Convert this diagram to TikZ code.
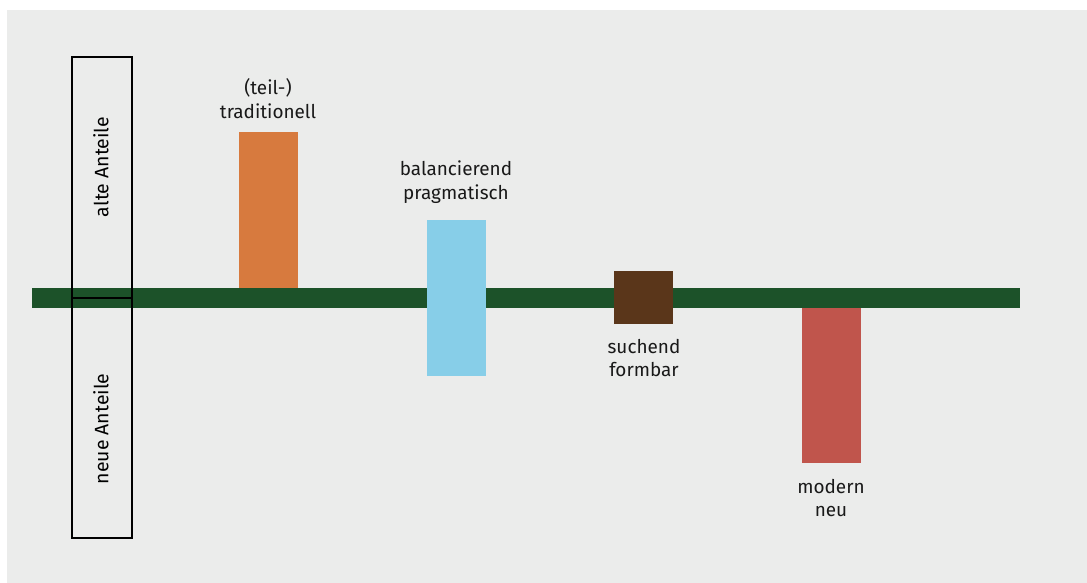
\documentclass[tikz,border=0pt]{standalone}
\usepackage{fontspec}
\setmainfont{Fira Sans}
\definecolor{bg}{HTML}{EBECEB}
\definecolor{bargreen}{HTML}{1C5229}
\definecolor{cOrange}{HTML}{D77A3E}
\definecolor{cBlue}{HTML}{87CEE8}
\definecolor{cBrown}{HTML}{5A361A}
\definecolor{cRed}{HTML}{C0554C}
\begin{document}
\begin{tikzpicture}[x=1bp,y=-1bp,
  bar/.style={draw=none,minimum width=59bp,inner sep=0pt,outer sep=0pt},
  lbl/.style={align=center,font=\fontsize{19}{24}\selectfont,text=black!90,inner sep=0pt},
  side/.style={font=\fontsize{19.5}{24}\selectfont,rotate=90,inner sep=0pt}]
\useasboundingbox (0,0) rectangle (1087,583);
\fill[white] (0,0) rectangle (1087,583);
\fill[bg] (7,10) rectangle (1087,583);
% green axis
\fill[bargreen] (32,288) rectangle (1020,308);
% frame
\node[draw=black,line width=1.2bp,minimum width=60bp,minimum height=481bp,inner sep=0pt] (frame) at (102,297.5) {};
\coordinate (fl) at (72,298);
\coordinate (fr) at (132,298);
\draw[line width=1.2bp] (fl) -- (fr);
\node[side] (alte) at (101,167) {alte Anteile};
\node[side] (neue) at (101,429) {neue Anteile};
% bars
\node[bar,fill=cOrange,minimum height=156bp] (o) at (268.5,210) {};
\node[bar,fill=cBlue,minimum height=156bp] (b) at (456.5,298) {};
\node[bar,fill=cBrown,minimum height=53bp] (br) at (643.5,297.5) {};
\node[bar,fill=cRed,minimum height=155bp] (r) at (831.5,385.5) {};
% labels
\node[lbl] (to) at (268,99) {(teil-)\\traditionell};
\node[lbl] (tb) at (456,182) {balancierend\\pragmatisch};
\node[lbl] (tbr) at (644,358) {suchend\\formbar};
\node[lbl] (tr) at (831,498) {modern\\neu};
\end{tikzpicture}
\end{document}
